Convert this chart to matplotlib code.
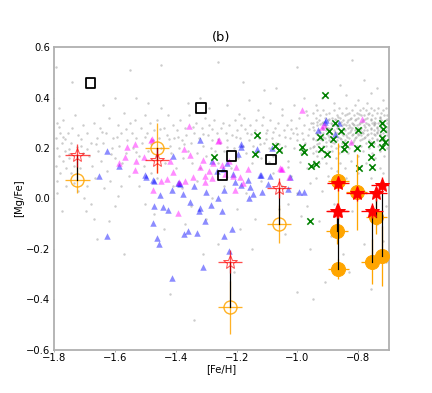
import numpy as np
import matplotlib
matplotlib.use('Agg')
import matplotlib.pyplot as plt

# field stars (gray background cloud)
field_pts = [
    (-1.795, 0.52), (-1.785, 0.36), (-1.79, 0.30), (-1.78, 0.26), (-1.795, 0.24), (-1.775, 0.22),
    (-1.79, 0.20), (-1.765, 0.19), (-1.785, 0.17), (-1.77, 0.15), (-1.795, 0.13), (-1.76, 0.12),
    (-1.78, 0.10), (-1.79, 0.07), (-1.755, 0.26), (-1.745, 0.22), (-1.74, 0.28), (-1.75, 0.16),
    (-1.735, 0.13), (-1.76, 0.05), (-1.775, -0.05), (-1.74, 0.46), (-1.73, 0.33), (-1.72, 0.25),
    (-1.71, 0.21), (-1.705, 0.29), (-1.715, 0.12), (-1.72, 0.03), (-1.70, 0.0), (-1.705, 0.18),
    (-1.79, 0.02), (-1.785, 0.285), (-1.77, 0.31), (-1.765, 0.235), (-1.75, 0.195), (-1.725, 0.205),
    (-1.735, 0.06), (-1.745, 0.10),
    (-1.69, 0.26), (-1.68, 0.22), (-1.67, 0.30), (-1.685, 0.17), (-1.675, 0.13), (-1.66, 0.24),
    (-1.655, 0.19), (-1.665, 0.08), (-1.69, 0.05), (-1.68, -0.02), (-1.67, -0.08), (-1.695, -0.05),
    (-1.65, 0.28), (-1.645, 0.15), (-1.64, 0.22), (-1.63, 0.26), (-1.625, 0.11), (-1.635, 0.04),
    (-1.62, 0.32), (-1.61, 0.20), (-1.605, 0.24), (-1.60, 0.16), (-1.615, 0.07), (-1.59, 0.29),
    (-1.585, 0.21), (-1.58, 0.26), (-1.575, 0.14), (-1.57, 0.34), (-1.565, 0.18), (-1.56, 0.23),
    (-1.555, 0.09), (-1.59, 0.01), (-1.60, -0.03), (-1.66, -0.16), (-1.57, -0.22), (-1.64, 0.37),
    (-1.60, 0.40), (-1.55, 0.30), (-1.62, -0.09), (-1.58, 0.05),
    (-1.545, 0.26), (-1.54, 0.20), (-1.535, 0.31), (-1.53, 0.24), (-1.52, 0.17), (-1.515, 0.28),
    (-1.51, 0.22), (-1.50, 0.33), (-1.505, 0.13), (-1.495, 0.26), (-1.49, 0.19), (-1.485, 0.30),
    (-1.48, 0.10), (-1.475, 0.23), (-1.47, 0.27), (-1.465, 0.17), (-1.46, 0.31), (-1.455, 0.24),
    (-1.45, 0.20), (-1.44, 0.28), (-1.435, 0.14), (-1.43, 0.25), (-1.425, 0.33), (-1.42, 0.21),
    (-1.415, 0.18), (-1.41, 0.29), (-1.405, 0.24), (-1.40, 0.12), (-1.52, 0.05), (-1.50, -0.02),
    (-1.47, -0.06), (-1.44, -0.12), (-1.42, -0.38), (-1.49, 0.38), (-1.45, 0.36), (-1.53, 0.40),
    (-1.41, 0.05), (-1.46, 0.08),
    (-1.395, 0.27), (-1.39, 0.20), (-1.385, 0.31), (-1.38, 0.23), (-1.375, 0.16), (-1.37, 0.28),
    (-1.365, 0.25), (-1.36, 0.19), (-1.355, 0.33), (-1.35, 0.22), (-1.345, 0.14), (-1.34, 0.26),
    (-1.335, 0.30), (-1.33, 0.18), (-1.325, 0.24), (-1.32, 0.12), (-1.315, 0.28), (-1.31, 0.21),
    (-1.305, 0.32), (-1.30, 0.17), (-1.295, 0.25), (-1.29, 0.29), (-1.285, 0.20), (-1.28, 0.23),
    (-1.275, 0.31), (-1.27, 0.19), (-1.265, 0.26), (-1.26, 0.14), (-1.255, 0.22), (-1.25, 0.28),
    (-1.38, 0.04), (-1.35, -0.03), (-1.33, 0.07), (-1.30, -0.08), (-1.28, 0.0), (-1.34, -0.48),
    (-1.36, 0.38), (-1.32, 0.40), (-1.29, 0.36), (-1.37, -0.10), (-1.26, -0.18), (-1.31, -0.22),
    (-1.245, 0.30), (-1.24, 0.19), (-1.235, 0.26), (-1.23, 0.23), (-1.225, 0.29), (-1.22, 0.12),
    (-1.215, 0.25), (-1.21, 0.20), (-1.205, 0.31), (-1.20, 0.27), (-1.195, 0.16), (-1.19, 0.24),
    (-1.185, 0.29), (-1.18, 0.21), (-1.175, 0.32), (-1.17, 0.18), (-1.165, 0.26), (-1.16, 0.23),
    (-1.155, 0.29), (-1.15, 0.14), (-1.145, 0.21), (-1.14, 0.27), (-1.135, 0.31), (-1.13, 0.19),
    (-1.125, 0.24), (-1.12, 0.16), (-1.115, 0.29), (-1.11, 0.22), (-1.105, 0.26), (-1.24, 0.05),
    (-1.20, -0.04), (-1.17, 0.02), (-1.14, -0.08), (-1.12, 0.07), (-1.19, -0.12), (-1.23, 0.37),
    (-1.16, 0.39), (-1.13, 0.35), (-1.21, -0.29), (-1.15, -0.20), (-1.11, 0.43), (-1.18, 0.46),
    (-1.10, 0.27), (-1.095, 0.20), (-1.09, 0.31), (-1.085, 0.24), (-1.08, 0.17), (-1.075, 0.28),
    (-1.07, 0.22), (-1.065, 0.30), (-1.06, 0.25), (-1.055, 0.19), (-1.05, 0.33), (-1.045, 0.27),
    (-1.04, 0.21), (-1.035, 0.29), (-1.03, 0.15), (-1.025, 0.24), (-1.02, 0.31), (-1.015, 0.26),
    (-1.01, 0.20), (-1.005, 0.28), (-1.00, 0.23), (-0.995, 0.32), (-0.99, 0.18), (-0.985, 0.26),
    (-0.98, 0.29), (-0.975, 0.22), (-0.97, 0.33), (-0.965, 0.25), (-0.96, 0.20), (-0.955, 0.30),
    (-1.08, 0.10), (-1.05, 0.05), (-1.02, 0.09), (-1.00, 0.02), (-0.97, 0.12), (-1.06, -0.04),
    (-1.03, -0.02), (-0.99, -0.07), (-0.96, 0.06), (-1.04, -0.14), (-1.09, 0.38), (-1.01, 0.37),
    (-0.98, 0.40), (-0.96, -0.20), (-1.00, -0.37), (-1.07, 0.44), (-0.97, -0.03),
    (-0.94, 0.08), (-0.92, 0.03), (-0.90, 0.09), (-0.88, -0.02), (-0.86, 0.05), (-0.84, 0.08),
    (-0.82, -0.05), (-0.80, 0.10), (-0.78, 0.03), (-0.76, 0.08), (-0.74, -0.10), (-0.72, 0.10),
    (-0.71, -0.03), (-0.93, -0.09), (-0.89, -0.15), (-0.85, -0.22), (-0.78, -0.18), (-0.72, -0.17),
    (-0.91, -0.33), (-0.83, -0.29), (-0.76, -0.36), (-0.71, -0.25), (-0.95, -0.40), (-0.87, 0.11),
    (-0.79, 0.13), (-0.73, 0.12), (-0.92, 0.40), (-0.88, 0.38), (-0.84, 0.41), (-0.80, 0.39),
    (-0.76, 0.42), (-0.72, 0.39), (-0.86, 0.45), (-0.78, 0.47), (-0.74, 0.44), (-0.94, 0.37),
    (-0.82, 0.55), (-1.00, 0.52), (-1.26, 0.54), (-1.45, 0.53), (-1.55, 0.51),
    # second pass over the band, filling gaps
    (-1.772, 0.245), (-1.752, 0.175), (-1.712, 0.235), (-1.692, 0.195), (-1.662, 0.215),
    (-1.642, 0.265), (-1.612, 0.175), (-1.592, 0.245), (-1.562, 0.275), (-1.532, 0.185),
    (-1.502, 0.245), (-1.482, 0.215), (-1.452, 0.275), (-1.422, 0.235), (-1.392, 0.245),
    (-1.372, 0.215), (-1.342, 0.285), (-1.312, 0.255), (-1.282, 0.275), (-1.262, 0.235),
    (-1.232, 0.205), (-1.202, 0.245), (-1.172, 0.275), (-1.152, 0.255), (-1.122, 0.215),
    (-1.102, 0.235), (-1.082, 0.265), (-1.062, 0.215), (-1.042, 0.245), (-1.022, 0.275),
    (-1.002, 0.255), (-0.982, 0.235), (-0.962, 0.275), (-1.092, 0.145), (-1.032, 0.125),
    (-0.992, 0.145), (-1.112, 0.325), (-1.052, 0.355), (-0.972, 0.345), (-1.192, 0.335),
]

# dense metal-rich clump: [Fe/H] column -> [Mg/Fe] values
clump_feh = [-0.950, -0.945, -0.940, -0.935, -0.930, -0.925, -0.920, -0.915, -0.910, -0.905,
             -0.900, -0.895, -0.890, -0.885, -0.880, -0.875, -0.870, -0.865, -0.860, -0.855,
             -0.850, -0.845, -0.840, -0.835, -0.830, -0.825, -0.820, -0.815, -0.810, -0.805,
             -0.800, -0.795, -0.790, -0.785, -0.780, -0.775, -0.770, -0.765, -0.760, -0.755,
             -0.750, -0.745, -0.740, -0.735, -0.730, -0.725, -0.720, -0.715, -0.710, -0.705]
clump_mgfe = [
    [0.18, 0.24, 0.30, 0.34], [0.21, 0.27, 0.15], [0.26, 0.32, 0.19, 0.23], [0.29, 0.17, 0.35],
    [0.22, 0.27, 0.31, 0.14], [0.25, 0.19, 0.33], [0.28, 0.23, 0.30, 0.16], [0.21, 0.26, 0.35],
    [0.24, 0.29, 0.18, 0.32], [0.27, 0.21, 0.14], [0.31, 0.25, 0.19, 0.28], [0.23, 0.34, 0.17],
    [0.26, 0.30, 0.21, 0.28, 0.12], [0.32, 0.24, 0.19], [0.27, 0.29, 0.22, 0.35],
    [0.25, 0.31, 0.16, 0.20], [0.28, 0.23, 0.33, 0.26], [0.30, 0.21, 0.18, 0.36],
    [0.27, 0.24, 0.32, 0.14], [0.29, 0.22, 0.34, 0.26], [0.25, 0.31, 0.19, 0.28],
    [0.33, 0.23, 0.27, 0.12], [0.29, 0.21, 0.25, 0.36], [0.31, 0.26, 0.18, 0.28],
    [0.24, 0.34, 0.29, 0.20], [0.27, 0.32, 0.22, 0.15], [0.30, 0.25, 0.35, 0.28],
    [0.23, 0.29, 0.19, 0.33], [0.27, 0.31, 0.24, 0.37], [0.29, 0.21, 0.34, 0.26],
    [0.25, 0.32, 0.28, 0.17], [0.30, 0.23, 0.35, 0.27], [0.28, 0.33, 0.21, 0.25],
    [0.31, 0.26, 0.36, 0.19], [0.24, 0.29, 0.33, 0.27], [0.30, 0.22, 0.35, 0.14],
    [0.27, 0.32, 0.25, 0.38], [0.29, 0.23, 0.34, 0.20], [0.26, 0.31, 0.28, 0.36],
    [0.30, 0.24, 0.33, 0.18], [0.27, 0.29, 0.22, 0.35], [0.32, 0.25, 0.30, 0.16],
    [0.28, 0.34, 0.23, 0.26], [0.30, 0.21, 0.36, 0.27], [0.25, 0.32, 0.29, 0.19],
    [0.28, 0.34, 0.23, 0.31], [0.26, 0.30, 0.21, 0.35], [0.29, 0.24, 0.33, 0.17],
    [0.27, 0.31, 0.22, 0.36], [0.30, 0.25, 0.33, 0.20],
]
# clump, second pass (columns offset half a step)
clump2_feh = [-0.9475, -0.9375, -0.9275, -0.9175, -0.9075, -0.8975, -0.8875, -0.8775, -0.8675,
              -0.8575, -0.8475, -0.8375, -0.8275, -0.8175, -0.8075, -0.7975, -0.7875, -0.7775,
              -0.7675, -0.7575, -0.7475, -0.7375, -0.7275, -0.7175, -0.7075]
clump2_mgfe = [
    [0.235, 0.285, 0.205], [0.255, 0.305, 0.215], [0.265, 0.235, 0.295], [0.245, 0.305, 0.275],
    [0.225, 0.285, 0.335], [0.275, 0.245, 0.315], [0.295, 0.255, 0.225], [0.265, 0.315, 0.245],
    [0.285, 0.245, 0.325], [0.305, 0.265, 0.235], [0.275, 0.295, 0.225], [0.245, 0.305, 0.335],
    [0.285, 0.265, 0.315], [0.255, 0.295, 0.225], [0.275, 0.315, 0.245], [0.295, 0.255, 0.335],
    [0.265, 0.305, 0.235], [0.285, 0.245, 0.315], [0.255, 0.295, 0.335], [0.275, 0.315, 0.225],
    [0.295, 0.255, 0.305], [0.265, 0.285, 0.235], [0.305, 0.255, 0.325], [0.275, 0.295, 0.245],
    [0.285, 0.265, 0.315],
]

blue_feh = [-1.625, -1.652, -1.586, -1.499, -1.472, -1.452, -1.413, -1.386, -1.377, -1.320,
            -1.301, -1.627, -1.471, -1.474, -1.443, -1.425, -1.463, -1.454, -1.413, -1.372,
            -1.359, -1.331, -1.353, -1.323, -1.304, -1.310, -1.285, -1.390, -1.242, -1.260,
            -1.249, -1.242, -1.216, -1.224, -1.162, -1.156, -1.147, -1.184, -1.118, -1.124,
            -1.091, -1.096, -1.031, -0.995, -0.979, -1.211, -1.476, -1.266, -1.184, -1.159,
            -1.320, -1.197, -1.186, -1.120, -0.907, -0.934, -0.862, -0.910, -0.877, -1.132,
            -1.085, -1.025, -1.230, -1.205, -1.340, -1.280, -1.500, -1.410, -1.393, -1.245]
blue_mgfe = [0.188, 0.089, 0.128, 0.085, 0.071, 0.012, 0.035, 0.058, 0.019, 0.230,
             0.025, -0.147, -0.029, -0.097, -0.032, -0.045, -0.158, -0.180, -0.315, -0.140,
             -0.130, -0.138, -0.015, -0.048, -0.090, -0.273, -0.024, 0.061, 0.035, 0.003,
             -0.050, -0.147, -0.123, -0.207, 0.075, 0.045, 0.016, 0.052, 0.025, 0.095,
             0.091, 0.056, 0.039, 0.025, 0.025, 0.098, 0.074, 0.107, 0.217, 0.0,
             -0.037, 0.175, 0.204, 0.095, 0.310, 0.273, 0.300, 0.303, 0.254, 0.197,
             0.201, 0.085, 0.140, 0.065, 0.048, 0.150, 0.095, 0.170, 0.060, 0.115]

magenta_feh = [-1.356, -1.534, -1.561, -1.587, -1.534, -1.504, -1.477, -1.373, -1.353, -1.408,
               -1.389, -1.370, -1.320, -1.476, -1.430, -1.480, -1.567, -1.530, -1.450, -1.261,
               -1.203, -1.189, -1.239, -1.277, -1.310, -1.343, -1.304, -1.282, -1.206, -1.162,
               -1.249, -1.304, -1.211, -1.027, -1.057, -0.986, -0.787, -0.913, -0.825, -1.055,
               -1.259, -0.921, -1.050, -1.392, -1.420, -1.225, -1.290, -1.180]
magenta_mgfe = [0.287, 0.217, 0.204, 0.142, 0.111, 0.164, 0.237, 0.198, 0.171, 0.104,
                0.065, 0.071, 0.124, 0.032, 0.078, 0.233, 0.164, 0.147, 0.068, 0.228,
                0.124, 0.085, 0.098, 0.140, 0.151, 0.085, 0.065, 0.082, 0.032, 0.118,
                0.131, 0.091, 0.091, 0.085, 0.122, 0.350, 0.317, 0.290, 0.224, 0.118,
                0.233, 0.283, 0.118, -0.058, 0.150, 0.150, 0.110, 0.060]

green_feh = [-1.274, -1.132, -1.140, -1.074, -1.060, -0.986, -0.979, -0.924, -0.902, -0.954,
             -0.940, -0.911, -0.926, -0.896, -0.877, -0.858, -0.883, -0.844, -0.847, -0.800,
             -0.804, -0.759, -0.760, -0.754, -0.797, -0.722, -0.719, -0.721, -0.712, -0.721,
             -0.958]
green_mgfe = [0.164, 0.251, 0.177, 0.210, 0.193, 0.206, 0.186, 0.197, 0.175, 0.128,
              0.138, 0.412, 0.244, 0.268, 0.300, 0.268, 0.234, 0.217, 0.197, 0.270,
              0.201, 0.217, 0.164, 0.124, 0.122, 0.300, 0.277, 0.241, 0.224, 0.204,
              -0.091]

square_feh = [-1.680, -1.317, -1.216, -1.247, -1.087]
square_mgfe = [0.458, 0.359, 0.168, 0.091, 0.154]

# open symbols (metal-poor)
ostar_feh = [-1.723, -1.462, -1.221, -1.061]
ostar_mgfe = [0.171, 0.151, -0.250, 0.042]
ostar_yerr = [0.045, 0.05, 0.045, 0.04]
ocirc_mgfe = [0.075, 0.200, -0.432, -0.100]
ocirc_yerr = [0.055, 0.10, 0.105, 0.075]

# filled symbols (metal-rich)
fstar_feh = [-0.866, -0.870, -0.866, -0.806, -0.741, -0.756, -0.721]
fstar_mgfe = [0.060, -0.048, -0.048, 0.021, 0.021, -0.048, 0.054]
fcirc_mgfe = [0.069, -0.130, -0.279, 0.025, -0.072, -0.250, -0.229]
fcirc_yerr = [0.15, 0.05, 0.04, 0.15, 0.07, 0.09, 0.12]


def field_arrays():
    fx = [p[0] for p in field_pts]
    fy = [p[1] for p in field_pts]
    for cols, vals in ((clump_feh, clump_mgfe), (clump2_feh, clump2_mgfe)):
        for x, ys in zip(cols, vals):
            for y in ys:
                fx.append(x)
                fy.append(y)
    return fx, fy


fig = plt.figure(figsize=(6, 393 / 72), dpi=72)
ax = fig.add_subplot(111)

fx, fy = field_arrays()
ax.scatter(fx, fy, s=6, color='gray', alpha=0.4, lw=0, zorder=1)

ax.scatter(blue_feh, blue_mgfe, marker='^', s=42, color='blue', alpha=0.45, lw=0, zorder=2)
ax.scatter(magenta_feh, magenta_mgfe, marker='^', s=42, color='magenta', alpha=0.45, lw=0, zorder=2)
ax.scatter(green_feh, green_mgfe, marker='x', s=40, color='green', lw=1.6, zorder=3)
ax.scatter(square_feh, square_mgfe, marker='s', s=90, facecolor='none', edgecolor='k', lw=1.8, zorder=4)

# open circles + stars
ax.errorbar(ostar_feh, ocirc_mgfe, xerr=0.04, yerr=ocirc_yerr, fmt='o', ms=13, mfc='none',
            mec='orange', mew=1.4, ecolor='orange', elinewidth=1.3, alpha=0.85, zorder=5)
for x, ys, yc in zip(ostar_feh, ostar_mgfe, ocirc_mgfe):
    ax.plot([x, x], [ys, yc], 'k-', lw=1.2, zorder=6)
ax.errorbar(ostar_feh, ostar_mgfe, xerr=0.04, yerr=ostar_yerr, fmt='*', ms=14, mfc='none',
            mec='red', mew=1.0, ecolor='red', elinewidth=1.3, alpha=0.7, zorder=7)

# filled circles + stars
ax.errorbar(fstar_feh, fcirc_mgfe, xerr=0.035, yerr=fcirc_yerr, fmt='o', ms=14, color='orange',
            ecolor='orange', elinewidth=1.3, zorder=5)
for x, ys, yc in zip(fstar_feh, fstar_mgfe, fcirc_mgfe):
    ax.plot([x, x], [ys, yc], 'k-', lw=1.2, zorder=6)
ax.errorbar(fstar_feh, fstar_mgfe, xerr=0.036, yerr=0.03, fmt='*', ms=15, color='red',
            ecolor='red', elinewidth=1.3, zorder=7)

ax.set_xlim(-1.8, -0.7)
ax.set_ylim(-0.6, 0.6)
ax.set_xticks([-1.8, -1.6, -1.4, -1.2, -1.0, -0.8])
ax.set_yticks([-0.6, -0.4, -0.2, 0.0, 0.2, 0.4, 0.6])
ax.set_xlabel('[Fe/H]', fontsize=10, labelpad=1)
ax.set_ylabel('[Mg/Fe]', fontsize=10, labelpad=2)
ax.set_title('(b)', fontsize=13)
for sp in ax.spines.values():
    sp.set_color('#b0b0b0')
    sp.set_linewidth(1.8)
ax.tick_params(length=1.5, width=1, color='#b0b0b0', labelsize=10, pad=2)

plt.savefig('out.png', dpi=72)
plt.close()
